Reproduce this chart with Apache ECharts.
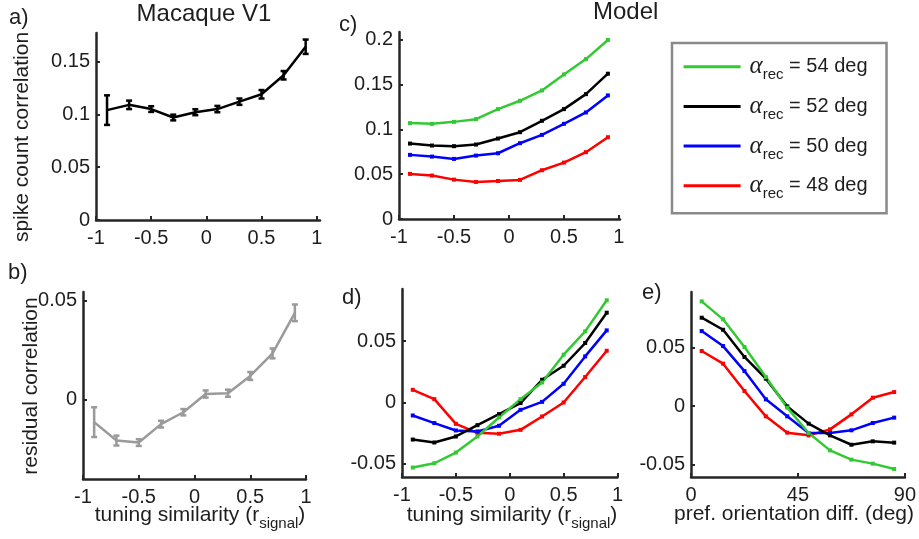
<!DOCTYPE html>
<html><head><meta charset="utf-8">
<script src="https://cdn.jsdelivr.net/npm/echarts@6/dist/echarts.min.js"></script>
<style>html,body{margin:0;padding:0;background:#fff}#c{width:919px;height:539px}</style>
</head><body><div id="c"></div>
<script>
// ---- data ----
const rSignal = [-0.9, -0.7, -0.5, -0.3, -0.1, 0.1, 0.3, 0.5, 0.7, 0.9];
const prefDiff = [4.5, 13.5, 22.5, 31.5, 40.5, 49.5, 58.5, 67.5, 76.5, 85.5];

const macaqueMean = [0.104, 0.109, 0.105, 0.097, 0.102, 0.105, 0.112, 0.119, 0.137, 0.164];
const macaqueErr  = [0.014, 0.004, 0.0027, 0.0027, 0.0028, 0.003, 0.003, 0.004, 0.004, 0.0068];

const residMean = [-0.0112, -0.0205, -0.0215, -0.0122, -0.0062, 0.003, 0.0034, 0.0121, 0.0235, 0.044];
const residErr  = [0.0075, 0.0025, 0.0017, 0.0017, 0.0016, 0.0018, 0.0018, 0.002, 0.0025, 0.0042];

const totalCorr54 = [0.1069, 0.1061, 0.1083, 0.1113, 0.1225, 0.1318, 0.1433, 0.1612, 0.1783, 0.1996];
const totalCorr52 = [0.0841, 0.0819, 0.0812, 0.083, 0.0897, 0.0968, 0.1095, 0.1225, 0.1392, 0.162];
const totalCorr50 = [0.0715, 0.0696, 0.067, 0.0707, 0.0733, 0.0845, 0.0938, 0.1061, 0.1188, 0.1378];
const totalCorr48 = [0.0503, 0.0484, 0.0439, 0.0413, 0.0424, 0.0436, 0.0544, 0.0629, 0.0745, 0.0912];

const residR54 = [-0.053, -0.0495, -0.0408, -0.0277, -0.0122, 0.0027, 0.0163, 0.0389, 0.0579, 0.0832];
const residR52 = [-0.0302, -0.0326, -0.0277, -0.0185, -0.0095, -0.0005, 0.0185, 0.0299, 0.0484, 0.0731];
const residR50 = [-0.0106, -0.0168, -0.0228, -0.0236, -0.019, -0.006, 0.0005, 0.0152, 0.0375, 0.0587];
const residR48 = [0.0103, 0.0027, -0.0174, -0.0247, -0.0255, -0.0223, -0.0114, 0, 0.0207, 0.0421];

const residO54 = [0.0892, 0.0739, 0.0503, 0.0247, -0.0014, -0.023, -0.0378, -0.0457, -0.0491, -0.0537];
const residO52 = [0.0753, 0.065, 0.0418, 0.0233, -0.0003, -0.015, -0.025, -0.033, -0.0301, -0.0312];
const residO50 = [0.0639, 0.0511, 0.0298, 0.0057, -0.0088, -0.023, -0.023, -0.0207, -0.0145, -0.0099];
const residO48 = [0.0469, 0.0361, 0.0128, -0.0088, -0.0227, -0.025, -0.0199, -0.0071, 0.0071, 0.0119];

const alphaRec = ['54', '52', '50', '48'];

const ticksR   = [-1, -0.5, 0, 0.5, 1];
const ticksDeg = [0, 45, 90];
const ticksA   = [0, 0.05, 0.1, 0.15];
const ticksB   = [0, 0.05];
const ticksC   = [0, 0.05, 0.1, 0.15, 0.2];
const ticksDE  = [-0.05, 0, 0.05];

// ---- styling ----
const FONT = '"Liberation Sans", Arial, Helvetica, sans-serif';
const SERIF = '"Liberation Serif", "DejaVu Serif", serif';
const AX = '#262626';
const TXT = '#1e1e1e';
const COLORS = {'54': '#33c933', '52': '#000000', '50': '#0000ff', '48': '#ff0000'};

function xAx(gi, min, max, ticks) {
  return {type: 'value', gridIndex: gi, min: min, max: max,
    axisLine: {onZero: false, lineStyle: {color: AX, width: 2.5}},
    axisTick: {inside: true, length: 4, lineStyle: {color: AX, width: 2}, customValues: ticks},
    axisLabel: {customValues: ticks, margin: 8, fontSize: 20, color: TXT, fontFamily: FONT},
    splitLine: {show: false}};
}
function yAx(gi, min, max, ticks) {
  return {type: 'value', gridIndex: gi, min: min, max: max,
    axisLine: {onZero: false, lineStyle: {color: AX, width: 2.5}},
    axisTick: {inside: true, length: 4, lineStyle: {color: AX, width: 2}, customValues: ticks},
    axisLabel: {customValues: ticks, margin: 6, fontSize: 20, color: TXT, fontFamily: FONT},
    splitLine: {show: false}};
}
function pairs(xs, ys) { return xs.map((x, i) => [x, ys[i]]); }
function lineSeries(name, gi, xs, ys, color, withSym) {
  return {type: 'line', name: name, xAxisIndex: gi, yAxisIndex: gi, data: pairs(xs, ys),
    symbol: withSym ? 'rect' : 'none', symbolSize: 4, showSymbol: !!withSym,
    lineStyle: {color: color, width: 2.5}, itemStyle: {color: color}, z: 3};
}
function errSeries(gi, xs, m, e, color) {
  return {type: 'custom', xAxisIndex: gi, yAxisIndex: gi,
    data: xs.map((x, i) => [x, m[i], e[i]]),
    encode: {x: 0, y: 1},
    renderItem: function (params, api) {
      const x = api.value(0), v = api.value(1), d = api.value(2);
      const t = api.coord([x, v + d]), b = api.coord([x, v - d]);
      const st = {stroke: color, lineWidth: 2.5};
      const w = 3;
      return {type: 'group', children: [
        {type: 'line', shape: {x1: t[0], y1: t[1], x2: b[0], y2: b[1]}, style: st},
        {type: 'line', shape: {x1: t[0] - w, y1: t[1], x2: t[0] + w, y2: t[1]}, style: st},
        {type: 'line', shape: {x1: b[0] - w, y1: b[1], x2: b[0] + w, y2: b[1]}, style: st}
      ]};
    }, z: 4};
}
function txt(x, y, text, size, opts) {
  opts = opts || {};
  return {type: 'text', x: x, y: y, rotation: opts.rot || 0, silent: true,
    style: {text: text, fontSize: size, fontFamily: FONT, fill: TXT,
      align: opts.align || 'center', textAlign: opts.align || 'center',
      verticalAlign: 'middle', textVerticalAlign: 'middle',
      rich: {s: {fontSize: 15, fontFamily: FONT, fill: TXT, padding: [18, 0, 0, 0], lineHeight: 1}}}};
}

const grids = [
  {left: 96, top: 33, width: 224, height: 187},
  {left: 83, top: 292, width: 223, height: 187},
  {left: 399, top: 32, width: 221, height: 187},
  {left: 402, top: 289, width: 215.5, height: 188},
  {left: 691, top: 292, width: 215, height: 185}
];

const series = [
  lineSeries('macaque', 0, rSignal, macaqueMean, '#000', false),
  errSeries(0, rSignal, macaqueMean, macaqueErr, '#000'),
  lineSeries('resid', 1, rSignal, residMean, '#9a9a9a', false),
  errSeries(1, rSignal, residMean, residErr, '#9a9a9a')
];
const cSets = {'48': totalCorr48, '50': totalCorr50, '52': totalCorr52, '54': totalCorr54};
const dSets = {'48': residR48, '50': residR50, '52': residR52, '54': residR54};
const eSets = {'48': residO48, '50': residO50, '52': residO52, '54': residO54};
['48', '50', '52', '54'].forEach(k => {
  series.push(lineSeries(k, 2, rSignal, cSets[k], COLORS[k], true));
  series.push(lineSeries(k, 3, rSignal, dSets[k], COLORS[k], true));
  series.push(lineSeries(k, 4, prefDiff, eSets[k], COLORS[k], true));
});

const option = {
  animation: false,
  backgroundColor: '#fff',
  grid: grids,
  xAxis: [xAx(0, -1, 1.03, ticksR), xAx(1, -1, 1, ticksR), xAx(2, -1, 1.01, ticksR), xAx(3, -1, 1, ticksR), xAx(4, 0, 90, ticksDeg)],
  yAxis: [yAx(0, 0, 0.177, ticksA), yAx(1, -0.0399, 0.0545, ticksB), yAx(2, 0, 0.2085, ticksC), yAx(3, -0.0607, 0.0924, ticksDE), yAx(4, -0.0605, 0.0972, ticksDE)],
  legend: {
    orient: 'vertical', left: 672, top: 43,
    data: alphaRec, icon: 'rect', itemWidth: 57, itemHeight: 3, itemGap: 7.7,
    padding: [7.7, 19, 11.5, 11.6],
    borderColor: '#8a8a8a', borderWidth: 2.5, backgroundColor: '#fff',
    selectedMode: false,
    formatter: name => '{a|α}{s|rec}{t| = ' + name + ' deg}',
    textStyle: {
      rich: {
        a: {fontFamily: SERIF, fontStyle: 'italic', fontSize: 25, color: TXT, lineHeight: 22, padding: [0, 0, 0, 4]},
        s: {fontFamily: FONT, fontSize: 15, color: TXT, lineHeight: 1, padding: [17, 0, 0, 0]},
        t: {fontFamily: FONT, fontSize: 20, color: TXT, lineHeight: 22}
      }
    }
  },
  graphic: [
    txt(204, 14, 'Macaque V1', 24),
    txt(593, 12, 'Model', 24, {align: 'left'}),
    txt(9, 18, 'a)', 22, {align: 'left'}),
    txt(8, 273, 'b)', 22, {align: 'left'}),
    txt(339, 25, 'c)', 22, {align: 'left'}),
    txt(342, 298, 'd)', 22, {align: 'left'}),
    txt(642, 293, 'e)', 22, {align: 'left'}),
    txt(22, 137, 'spike count correlation', 21, {rot: Math.PI / 2}),
    txt(31, 386, 'residual correlation', 21, {rot: Math.PI / 2}),
    txt(200, 515, 'tuning similarity (r{s|signal})', 21),
    txt(512, 515, 'tuning similarity (r{s|signal})', 21),
    txt(794, 514, 'pref. orientation diff. (deg)', 21)
  ],
  series: series
};
const chart = echarts.init(document.getElementById('c'), null, {renderer: 'canvas'});
chart.setOption(option);
</script></body></html>
